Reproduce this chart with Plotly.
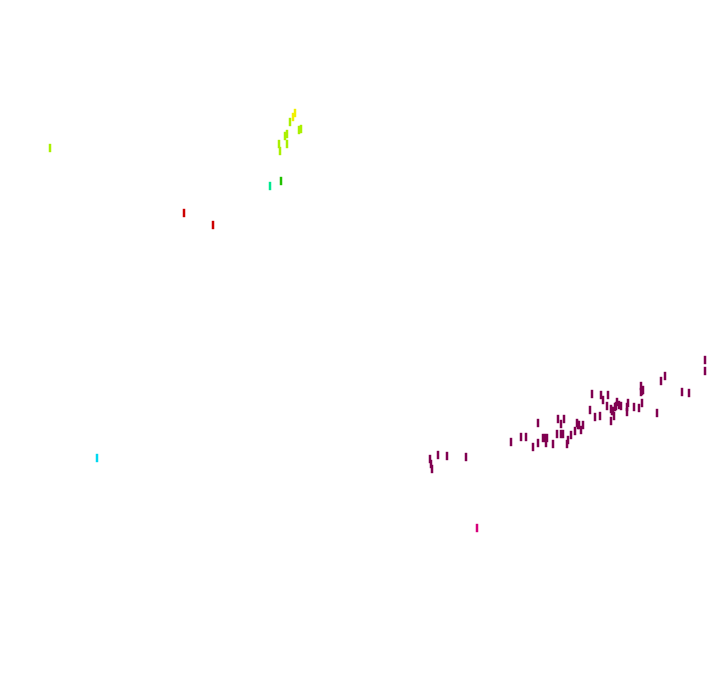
import plotly.graph_objects as go

# Estimated positions (x to the right, y downward)
mag_x = [704, 704, 664, 660, 640, 641, 681, 688, 591, 600, 607, 602, 616, 627, 641, 606, 615, 620, 626, 633, 638,
         589, 611, 626, 656, 599, 613, 594, 610, 537, 557, 563, 560, 577, 582, 574, 580, 570, 556, 560, 542, 546,
         520, 525, 510, 567, 566, 537, 545, 552, 532, 429, 430, 431, 437, 446, 465,
         612, 610, 578, 576, 562, 544, 640, 642, 614, 618]
mag_y = [359, 370, 375, 380, 385, 390, 391, 392, 393, 394, 394, 399, 401, 402, 402, 405, 405, 405, 406, 406, 407,
         409, 410, 411, 412, 415, 415, 416, 420, 422, 418, 418, 423, 424, 424, 430, 429, 434, 433, 433, 437, 437,
         436, 436, 441, 439, 443, 442, 442, 443, 446, 458, 463, 468, 454, 455, 456,
         410, 408, 424, 422, 433, 437, 391, 389, 406, 404]

pink_x = [476]
pink_y = [527]

cyan_x = [96]
cyan_y = [457]

yg_x = [49, 289, 298, 300, 284, 286, 278, 286, 279]
yg_y = [147, 121, 129, 128, 135, 133, 143, 143, 150]

yel_x = [294, 292]
yel_y = [112, 116]

grn_x = [280]
grn_y = [180]

teal_x = [269]
teal_y = [185]

red_x = [183, 212]
red_y = [212, 224]

groups = [
    ("A", mag_x, mag_y, "#800050"),
    ("B", pink_x, pink_y, "#d6007a"),
    ("C", cyan_x, cyan_y, "#00d8f0"),
    ("D", yg_x, yg_y, "#aaf000"),
    ("E", yel_x, yel_y, "#f0f000"),
    ("F", grn_x, grn_y, "#22c000"),
    ("G", teal_x, teal_y, "#00e890"),
    ("H", red_x, red_y, "#cc0000"),
]

fig = go.Figure()
for name, xs, ys, col in groups:
    fig.add_trace(go.Scatter(
        x=xs, y=ys, mode="markers", name=name,
        marker=dict(symbol="line-ns", size=6, color=col, line=dict(color=col, width=2.5)),
        showlegend=False,
    ))

fig.update_layout(
    width=720, height=692,
    margin=dict(l=0, r=0, t=0, b=0),
    paper_bgcolor="white", plot_bgcolor="white",
    xaxis=dict(range=[7, 727], visible=False),
    yaxis=dict(range=[699, 7], visible=False),
)
fig.write_html("out.html")
